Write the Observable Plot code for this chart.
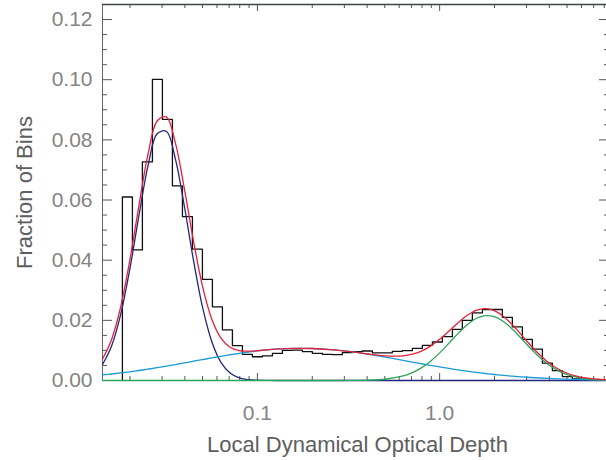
<!DOCTYPE html>
<html><head><meta charset="utf-8">
<script src="https://cdn.jsdelivr.net/npm/d3@7"></script>
<script src="https://cdn.jsdelivr.net/npm/@observablehq/plot@0.6"></script>
<style>
html,body{margin:0;padding:0;background:#fff;overflow:hidden;}
#chart svg{max-width:none !important;}
</style></head><body><div id="chart"></div>
<script>
// ---- data ----
const xDomain = [0.01413, 8.55];
const yMax = 0.125;

// histogram bin edges (log-spaced) and bin fractions
const binEdges = [0.01817,0.02062,0.02339,0.02655,0.03012,0.03418,0.03879,0.04400,0.04993,0.05665,
  0.06428,0.07295,0.08277,0.09391,0.1066,0.1209,0.1372,0.1556,0.1766,0.2003,
  0.2273,0.2579,0.2926,0.3320,0.3767,0.4276,0.4852,0.5504,0.6245,0.7085,
  0.8039,0.9124,1.035,1.175,1.332,1.512,1.716,1.947,2.209,2.506,
  2.844,3.227,3.662,4.154,4.713,5.348,6.068,6.885,7.813];
const binFractions = [0.0610,0.0434,0.0727,0.1001,0.0868,0.0647,0.0545,0.0437,0.0336,0.0245,
  0.0168,0.0116,0.0087,0.0079,0.0082,0.0090,0.0100,0.0101,0.0096,0.0090,
  0.0087,0.0086,0.0093,0.0096,0.0098,0.0092,0.0092,0.0097,0.0099,0.0107,
  0.0117,0.0128,0.0146,0.0170,0.0200,0.0225,0.0236,0.0236,0.0210,0.0178,
  0.0137,0.0104,0.0058,0.0033,0.0013,0.0005,0.0002,0.0001];

// fitted components sampled along the optical depth axis
const fitTau = [0.01413,0.01585,0.01778,0.01995,0.02239,0.02512,0.02818,0.03162,0.03548,0.03981,
  0.04467,0.05012,0.05623,0.06310,0.07079,0.07943,0.08913,0.1,0.1122,0.1259,
  0.1585,0.1995,0.2512,0.3162,0.3981,0.5012,0.6310,0.7079,0.7943,0.8913,
  1.0,1.122,1.259,1.413,1.585,1.778,1.995,2.239,2.512,2.818,
  3.162,3.548,3.981,4.467,5.012,5.623,6.310,7.079,7.943,8.913];
const fitNarrow = [0.00530,0.01150,0.02199,0.03700,0.05481,0.07146,0.08202,0.08286,0.07369,0.05768,
  0.03975,0.02411,0.01287,0.00605,0.00250,0.00091,0.00029,0.00008,0.00002,0,
  0,0,0,0,0,0,0,0,0,0,
  0,0,0,0,0,0,0,0,0,0,
  0,0,0,0,0,0,0,0,0,0];
const fitBroad = [0.00184,0.00216,0.00251,0.00290,0.00332,0.00377,0.00426,0.00477,0.00530,0.00585,
  0.00641,0.00696,0.00752,0.00805,0.00856,0.00903,0.00946,0.00984,0.01016,0.01040,
  0.01068,0.01064,0.01029,0.00966,0.00880,0.00779,0.00669,0.00613,0.00557,0.00503,
  0.00451,0.00401,0.00354,0.00310,0.00270,0.00233,0.00200,0.00170,0.00144,0.00120,
  0.00100,0.00083,0.00068,0.00055,0.00045,0.00036,0.00028,0.00022,0.00018,0.00014];
const fitHigh = [0,0,0,0,0,0,0,0,0,0,
  0,0,0,0,0,0,0,0,0,0,
  0,0,0,0.00002,0.00009,0.00042,0.00150,0.00260,0.00421,0.00641,
  0.00918,0.01234,0.01558,0.01848,0.02060,0.02156,0.02121,0.01959,0.01701,0.01387,
  0.01062,0.00764,0.00517,0.00328,0.00196,0.00110,0.00058,0.00029,0.00013,0.00006];
const fitTotal = [0.00714,0.01366,0.02450,0.03990,0.05813,0.07523,0.08628,0.08763,0.07899,0.06353,
  0.04616,0.03107,0.02039,0.01410,0.01106,0.00994,0.00975,0.00992,0.01018,0.01040,
  0.01068,0.01064,0.01029,0.00968,0.00889,0.00821,0.00819,0.00873,0.00978,0.01144,
  0.01369,0.01635,0.01912,0.02158,0.02330,0.02389,0.02321,0.02129,0.01845,0.01507,
  0.01162,0.00847,0.00585,0.00383,0.00241,0.00146,0.00086,0.00051,0.00031,0.00020];

// ticks
const yMajorTicks = [0, 0.02, 0.04, 0.06, 0.08, 0.10, 0.12];
const yTickLabels = ["0.00","0.02","0.04","0.06","0.08","0.10","0.12"];
const yMinorTicks = [0.005,0.01,0.015,0.025,0.03,0.035,0.045,0.05,0.055,0.065,0.07,0.075,0.085,0.09,0.095,0.105,0.11,0.115];
const xMajorTicks = [0.1, 1];
const xTickLabels = ["0.1", "1.0"];
const xMinorTicks = [0.02,0.03,0.04,0.05,0.06,0.07,0.08,0.09,0.2,0.3,0.4,0.5,0.6,0.7,0.8,0.9,2,3,4,5,6,7,8];
const xTitle = "Local Dynamical Optical Depth";
const yTitle = "Fraction of Bins";

// ---- build tables ----
const histSteps = [{x: binEdges[0], y: 0}]
  .concat(binFractions.map((v, i) => ({x: binEdges[i], y: v})))
  .concat([{x: binEdges[binEdges.length - 1], y: binFractions[binFractions.length - 1]}]);
const fitRows = fitTau.map((t, i) => ({t, narrow: fitNarrow[i], broad: fitBroad[i], high: fitHigh[i], total: fitTotal[i]}));

const W = 609, H = 460, ML = 102, MR = 0, MT = 4, MB = 80;
const PW = W - ML - MR, PH = H - MT - MB;
const tickColor = "#555";
const labelColor = "#848484";
const titleColor = "#5e5e5e";

const chart = Plot.plot({
  width: W, height: H,
  marginLeft: ML, marginRight: MR, marginTop: MT, marginBottom: MB,
  style: {fontFamily: "'Liberation Sans', Arial, Helvetica, sans-serif", fontSize: "21px", background: "#fff", maxWidth: "none", overflow: "hidden"},
  x: {type: "log", domain: xDomain},
  y: {domain: [0, yMax]},
  marks: [
    // ticks (inward)
    Plot.tickY(yMajorTicks, {y: d => d, insetRight: PW - 10, stroke: tickColor}),
    Plot.tickY(yMinorTicks, {y: d => d, insetRight: PW - 5, stroke: tickColor}),
    Plot.tickY(yMajorTicks, {y: d => d, insetLeft: PW - 10, stroke: tickColor}),
    Plot.tickY(yMinorTicks, {y: d => d, insetLeft: PW - 5, stroke: tickColor}),
    Plot.tickX(xMajorTicks, {x: d => d, insetTop: PH - 7, stroke: tickColor}),
    Plot.tickX(xMinorTicks, {x: d => d, insetTop: PH - 4, stroke: tickColor}),
    Plot.tickX(xMajorTicks, {x: d => d, insetBottom: PH - 7, stroke: tickColor}),
    Plot.tickX(xMinorTicks, {x: d => d, insetBottom: PH - 4, stroke: tickColor}),
    // frame
    Plot.ruleX([xDomain[0]], {stroke: "#666"}),
    Plot.ruleY([0], {stroke: "#666"}),
    Plot.ruleY([yMax], {stroke: "#3a463e", strokeWidth: 1.5}),
    // axes labels
    Plot.axisY(yMajorTicks, {tickSize: 0, tickPadding: 10, color: labelColor, fontSize: 21, tickFormat: d => yTickLabels[yMajorTicks.indexOf(d)], label: null}),
    Plot.axisX(xMajorTicks, {tickSize: 0, tickPadding: 25, color: labelColor, fontSize: 21, tickFormat: d => xTickLabels[xMajorTicks.indexOf(d)], label: null}),
    Plot.text([xTitle], {text: d => d, frameAnchor: "bottom", textAnchor: "middle", dx: 1.5, dy: 64.5, lineAnchor: "middle", fontSize: 22, fill: titleColor}),
    Plot.text([yTitle], {text: d => d, frameAnchor: "left", textAnchor: "middle", rotate: -90, dx: -78, lineAnchor: "middle", fontSize: 22, fill: titleColor}),
    // histogram
    Plot.line(histSteps, {x: "x", y: "y", curve: "step-after", stroke: "#111", strokeWidth: 1.3}),
    // fits
    Plot.line(fitRows, {x: "t", y: "narrow", curve: "catmull-rom", stroke: "#23267e", strokeWidth: 1.3}),
    Plot.line(fitRows, {x: "t", y: "broad", curve: "catmull-rom", stroke: "#1b9ad8", strokeWidth: 1.3}),
    Plot.line(fitRows, {x: "t", y: "high", curve: "catmull-rom", stroke: "#2aa65a", strokeWidth: 1.3}),
    Plot.line(fitRows, {x: "t", y: "total", curve: "catmull-rom", stroke: "#e3203a", strokeWidth: 1.3})
  ]
});
document.getElementById("chart").appendChild(chart);
</script></body></html>
